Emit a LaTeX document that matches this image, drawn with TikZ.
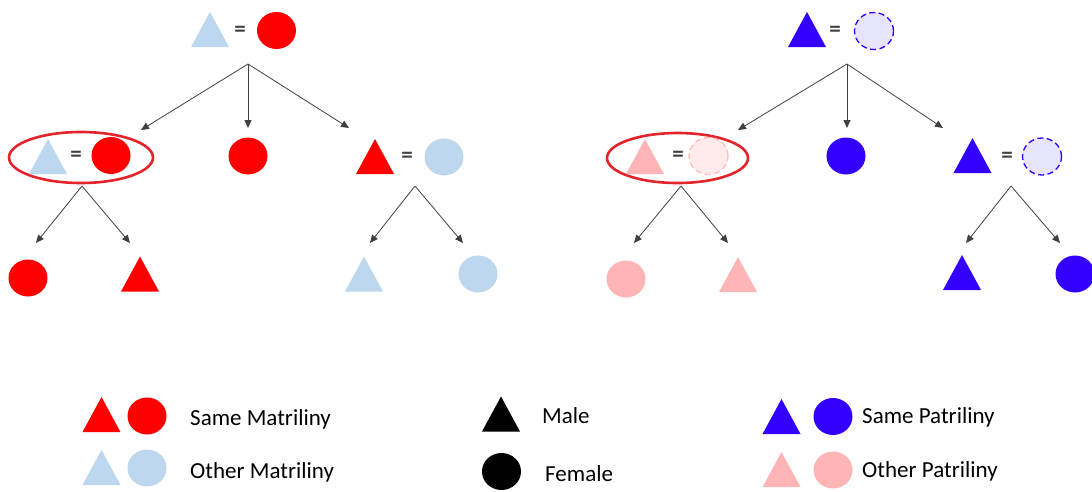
\documentclass[tikz,border=0pt]{standalone}
\usepackage{fontspec}
\setmainfont{Carlito}
\usetikzlibrary{arrows.meta,shapes.geometric}
\definecolor{matred}{HTML}{FF0000}
\definecolor{matblue}{HTML}{BDD7EE}
\definecolor{patblue}{HTML}{3300FF}
\definecolor{patpink}{HTML}{FFB5B5}
\definecolor{ghostpink}{HTML}{FFEBEB}
\definecolor{ghostpinkline}{HTML}{FFBDBD}
\definecolor{ghostblue}{HTML}{E6E4FF}
\definecolor{ringred}{HTML}{E3242B}
\definecolor{linkgray}{HTML}{404040}
\begin{document}
\begin{tikzpicture}[x=1pt,y=-1pt,
  every node/.style={font=\fontsize{23}{26}\selectfont},
  circ/.style={ellipse,minimum width=39pt,minimum height=37pt,inner sep=0pt,draw=none},
  ghost/.style={circ,dash pattern=on 6pt off 3.5pt,line width=1.3pt},
  eq/.style={inner sep=0pt,text=linkgray,font=\fontsize{23}{26}\selectfont\bfseries},
  lbl/.style={anchor=base west,inner sep=0pt,text=black},
  ring/.style={draw=ringred,line width=2.6pt,ellipse,inner sep=0pt},
  link/.style={draw=linkgray,line width=0.8pt,-{Triangle[length=8pt,width=7pt]}},
  tri/.pic={\path[pic actions] (-19,17.5) -- (19,17.5) -- (0,-17.5) -- cycle;}]
\useasboundingbox (0,0) rectangle (1092,491);
\begin{scope}
\clip (0,0) rectangle (1092,491);

% ---------- matrilineal tree ----------
\pic[fill=matblue] (mT) at (210,29.5) {tri};
\node[eq] (mTeq) at (240,31) {=};
\node[circ,fill=matred] (mTc) at (276.5,30.5) {};
\coordinate (mTo) at (248,64);

\node[ring,minimum width=144pt,minimum height=51pt] (mRing) at (81,157.5) {};
\pic[fill=matblue] (mL) at (48,156.5) {tri};
\node[eq] (mLeq) at (76,156) {=};
\node[circ,fill=matred] (mLc) at (111,155.5) {};
\node[circ,fill=matred] (mM) at (248,156) {};
\pic[fill=matred] (mR) at (375,156.5) {tri};
\node[eq] (mReq) at (407,157) {=};
\node[circ,fill=matblue] (mRc) at (444,157) {};

\coordinate (mLin) at (141,130);
\coordinate (mMin) at (248,128);
\coordinate (mRin) at (349,128);
\draw[link] (mTo) -- (mLin);
\draw[link] (mTo) -- (mMin);
\draw[link] (mTo) -- (mRin);

\coordinate (mLo) at (82,186);
\coordinate (mRo) at (415,186);
\node[circ,fill=matred] (mLL) at (28,278) {};
\pic[fill=matred] (mLR) at (140,274) {tri};
\pic[fill=matblue] (mRL) at (364,274) {tri};
\node[circ,fill=matblue] (mRR) at (478,274) {};
\draw[link] (mLo) -- (36,243) coordinate (mLLin);
\draw[link] (mLo) -- (130,243) coordinate (mLRin);
\draw[link] (mRo) -- (370,243) coordinate (mRLin);
\draw[link] (mRo) -- (463,243) coordinate (mRRin);

% ---------- patrilineal tree ----------
\pic[fill=patblue] (pT) at (807,29.5) {tri};
\node[eq] (pTeq) at (835,31) {=};
\node[ghost,draw=patblue,fill=ghostblue] (pTc) at (874,31) {};
\coordinate (pTo) at (847,64);

\node[ring,minimum width=141pt,minimum height=50pt] (pRing) at (677.5,158) {};
\pic[fill=patpink] (pL) at (645,156.5) {tri};
\node[eq] (pLeq) at (678,156) {=};
\node[ghost,draw=ghostpinkline,fill=ghostpink] (pLc) at (708.5,156) {};
\node[circ,fill=patblue] (pM) at (846,156) {};
\pic[fill=patblue] (pR) at (972.5,155.5) {tri};
\node[eq] (pReq) at (1007,157) {=};
\node[ghost,draw=patblue,fill=ghostblue] (pRc) at (1042,156.5) {};

\coordinate (pLin) at (738,130);
\coordinate (pMin) at (847,128);
\coordinate (pRin) at (943,128);
\draw[link] (pTo) -- (pLin);
\draw[link] (pTo) -- (pMin);
\draw[link] (pTo) -- (pRin);

\coordinate (pLo) at (681,186);
\coordinate (pRo) at (1011,186);
\node[circ,fill=patpink] (pLL) at (626,279) {};
\pic[fill=patpink] (pLR) at (738,274.5) {tri};
\pic[fill=patblue] (pRL) at (962,272.5) {tri};
\node[circ,fill=patblue] (pRR) at (1075,274) {};
\draw[link] (pLo) -- (634,243) coordinate (pLLin);
\draw[link] (pLo) -- (728,243) coordinate (pLRin);
\draw[link] (pRo) -- (966,243) coordinate (pRLin);
\draw[link] (pRo) -- (1060,243) coordinate (pRRin);

% ---------- key ----------
\pic[fill=matred] (kMat1) at (101.5,414.5) {tri};
\node[circ,fill=matred] (kMat2) at (147,416) {};
\node[lbl] (kMatTxt) at (190,425) {Same Matriliny};
\pic[fill=matblue] (kOMat1) at (101.5,467.5) {tri};
\node[circ,fill=matblue] (kOMat2) at (147,468) {};
\node[lbl] (kOMatTxt) at (190,478) {Other Matriliny};

\pic[fill=black] (kMale) at (501,414) {tri};
\node[lbl] (kMaleTxt) at (542,423) {Male};
\node[circ,fill=black] (kFemale) at (501.5,471.5) {};
\node[lbl] (kFemaleTxt) at (545,481) {Female};

\pic[fill=patblue] (kPat1) at (781.5,416.5) {tri};
\node[circ,fill=patblue] (kPat2) at (833,416.5) {};
\node[lbl] (kPatTxt) at (862,423) {Same Patriliny};
\pic[fill=patpink] (kOPat1) at (781.5,469.5) {tri};
\node[circ,fill=patpink] (kOPat2) at (833,470) {};
\node[lbl] (kOPatTxt) at (862,477) {Other Patriliny};
\end{scope}
\end{tikzpicture}
\end{document}
